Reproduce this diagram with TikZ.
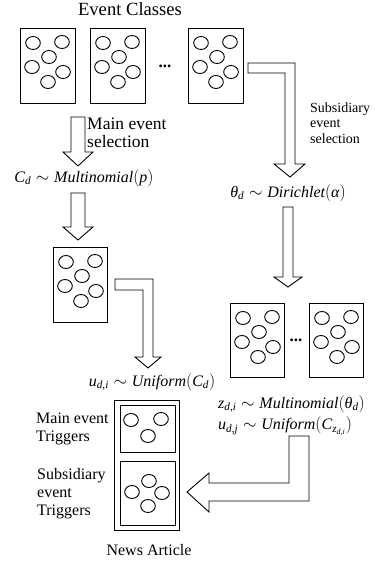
\documentclass[tikz,border=0pt]{standalone}
\usepackage{amsmath}
\usepackage{fontspec}
\setmainfont{Liberation Serif}
\usetikzlibrary{calc}
\newcommand\sixblobs[1]{%
  \foreach \dx/\dy in {13/15,42/14,29/29,12/39,43/44,28/54}
    \draw[blob] ($(#1.north west)+(\dx,\dy)$) ellipse [x radius=7.3pt, y radius=6.5pt];}
\newcommand\iv[1]{\textit{#1}}
\begin{document}
\begin{tikzpicture}[x=1pt,y=-1pt,
  box/.style={draw, line width=1pt, inner sep=0pt, minimum width=55pt, minimum height=75pt, anchor=north west},
  blob/.style={draw, line width=0.9pt},
  blockarrow/.style={draw, line width=0.9pt, fill=white, line join=miter},
  lbl/.style={font=\fontsize{16}{18}\selectfont, inner sep=0pt, align=left},
  sublbl/.style={font=\fontsize{14}{15.5}\selectfont, inner sep=0pt, align=left},
  dotsl/.style={font=\fontsize{17}{18}\selectfont\bfseries, inner sep=0pt}]
\useasboundingbox (0,0) rectangle (385,561);

% event classes
\node[lbl, font=\fontsize{18.6}{20}\selectfont] (title) at (130,9) {Event Classes};
\node[box] (b1) at (20,28) {};
\node[box] (b2) at (90,28) {};
\node[box] (b3) at (188,28) {};
\sixblobs{b1}\sixblobs{b2}\sixblobs{b3}
\node[dotsl] (d1) at (165,66) {...};

% main event selection
\draw[blockarrow] (71,117) -- (85,117) -- (85,152) -- (93,152) -- (78,166) -- (63,152) -- (71,152) -- cycle;
\node[lbl, anchor=west, font=\fontsize{17.5}{17.5}\selectfont] (mainsel) at (87,133) {Main event\\selection};
\node[lbl] (cd) at (84,178) {$\iv{C}_{\iv{d}}\sim\iv{Multinomial}(\iv{p})$};
\draw[blockarrow] (71,193) -- (85,193) -- (85,227) -- (93,227) -- (78,240) -- (63,227) -- (71,227) -- cycle;
\node[box, minimum width=54pt] (b4) at (53,247) {};
\sixblobs{b4}
\draw[blockarrow] (115,279) -- (153,279) -- (153,357) -- (161,357) -- (148,368) -- (135,357) -- (143,357) -- (143,290) -- (115,290) -- cycle;
\node[lbl] (u1) at (152,382) {$\iv{u}_{\iv{d,i}}\sim\iv{Uniform}(\iv{C}_{\iv{d}})$};

% subsidiary event selection
\draw[blockarrow] (248,63) -- (295,63) -- (295,164) -- (305,164) -- (290,177) -- (274,164) -- (285,164) -- (285,73) -- (248,73) -- cycle;
\node[sublbl, anchor=west] (subsel) at (310,123) {Subsidiary\\event\\selection};
\node[lbl] (theta) at (288,193) {$\iv{θ}_{\iv{d}}\sim\iv{Dirichlet}(\iv{α})$};
\draw[blockarrow] (283,207) -- (293,207) -- (293,277) -- (302,277) -- (288,287) -- (274,277) -- (283,277) -- cycle;
\node[box, minimum width=54pt, minimum height=74pt] (b5) at (230,303) {};
\node[box, minimum width=54pt, minimum height=74pt] (b6) at (309,303) {};
\sixblobs{b5}\sixblobs{b6}
\node[dotsl] (d2) at (296,340) {...};
\node[lbl, anchor=west] (z) at (218,404) {$\iv{z}_{\iv{d,i}}\sim\iv{Multinomial}(\iv{θ}_{\iv{d}})$};
\node[lbl, anchor=west] (u2) at (218,426) {$\iv{u}_{\iv{d,j}}\sim\iv{Uniform}(\iv{C}_{\iv{z}_{\iv{d,i}}})$};
\draw[blockarrow] (289,436) -- (309,436) -- (309,501) -- (209,501) -- (209,512) -- (187,492) -- (209,473) -- (209,483) -- (289,483) -- cycle;

% news article
\node[draw, line width=1.3pt, inner sep=0pt, minimum width=65pt, minimum height=130pt, anchor=north west] (news) at (114,400) {};
\node[draw, line width=1pt, inner sep=0pt, minimum width=55pt, minimum height=47pt, anchor=north west] (main) at (120,405) {};
\node[draw, line width=1pt, inner sep=0pt, minimum width=55pt, minimum height=64pt, anchor=north west] (subs) at (120,461) {};
\foreach \px/\py in {131/420,161/419,148/436,149/481,132/492,162/493,148/506}
  \draw[blob] (\px,\py) ellipse [x radius=7.3pt, y radius=6.5pt];
\node[lbl, anchor=west] (mainlbl) at (36,429) {Main event\\Triggers};
\node[lbl, anchor=west] (sublbl2) at (37,494) {Subsidiary\\event\\Triggers};
\node[lbl] (newslbl) at (149,550) {News Article};
\end{tikzpicture}
\end{document}
